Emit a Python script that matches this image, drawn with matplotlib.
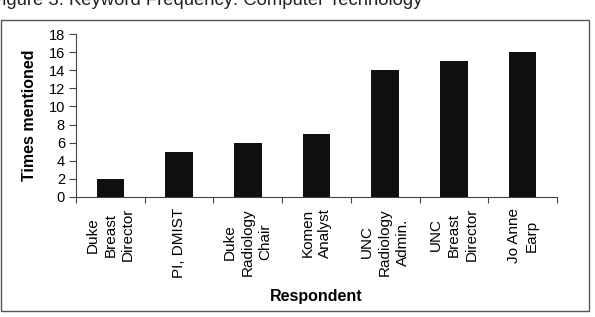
import matplotlib.pyplot as plt
from matplotlib.patches import Rectangle

plt.rcParams['font.family'] = ['Liberation Sans', 'DejaVu Sans']

# ── Data ──────────────────────────────────────────────────────────────────────
respondents = [
    "Duke\nBreast\nDirector",
    "PI, DMIST",
    "Duke\nRadiology\nChair",
    "Komen\nAnalyst",
    "UNC\nRadiology\nAdmin.",
    "UNC\nBreast\nDirector",
    "Jo Anne\nEarp",
]
times_mentioned = [2, 5, 6, 7, 14, 15, 16]
y_ticks = list(range(0, 19, 2))

W, H = 595, 317
fig = plt.figure(figsize=(W / 100, H / 100), dpi=100)

# axes placed to match pixel layout of the scan
ax = fig.add_axes([76 / W, 1 - 197 / H, (557 - 76) / W, (197 - 34) / H])

x = range(len(respondents))
ax.bar(x, times_mentioned, width=0.4, color="#101010", zorder=3)

ax.set_xlim(-0.5, len(respondents) - 0.5)
ax.set_ylim(0, 18)
ax.set_yticks(y_ticks)
ax.set_xticks(list(x))
ax.set_xticklabels(respondents, rotation=90, fontsize=11, linespacing=1.35,
                   multialignment="center", va="top", ha="center")
ax.set_xticks([i - 0.5 for i in range(len(respondents) + 1)], minor=True)
ax.tick_params(axis="x", which="major", length=0, pad=8)
ax.tick_params(axis="x", which="minor", length=4, width=0.8,
               direction="out", color="#444444")
ax.tick_params(axis="y", length=5, width=0.8, direction="out",
               color="#444444", labelsize=10.5, pad=3)

for side in ("top", "right"):
    ax.spines[side].set_visible(False)
for side in ("left", "bottom"):
    ax.spines[side].set_color("#444444")
    ax.spines[side].set_linewidth(0.8)

ax.set_ylabel("Times mentioned", fontsize=11.5, fontweight="bold")
ax.yaxis.set_label_coords(-0.081, 0.5)
ax.set_xlabel("Respondent", fontsize=11.5, fontweight="bold")
ax.xaxis.set_label_coords(0.5, -0.565)
ax.xaxis.label.set_va("top")

# chart-area border
fig.patches.append(Rectangle((0.5 / W, 1 - 311 / H), 588.5 / W, 291 / H,
                             transform=fig.transFigure, fill=False,
                             edgecolor="#555555", linewidth=1.0))

# caption, clipped at the top-left as in the scan
fig.text(-9 / W, 1 - 5 / H, "Figure 3: Keyword Frequency: Computer Technology",
         fontsize=13.3, va="baseline", ha="left", color="#222222")

fig.savefig("out.png", dpi=100)
